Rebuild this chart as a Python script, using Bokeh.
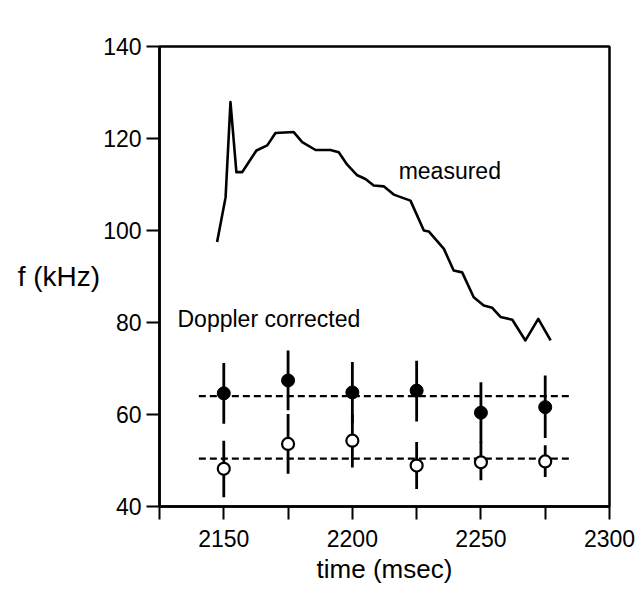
from bokeh.plotting import figure
from bokeh.models import Range1d, FixedTicker, Label
from bokeh.embed import file_html
from bokeh.resources import INLINE

FONT = "Liberation Sans"

# measured mode frequency (kHz) vs time (msec)
meas_t = [2147.4, 2150.7, 2152.6, 2154.9, 2157.2, 2162.7, 2166.9, 2170.1, 2177.2,
          2180.5, 2185.7, 2191.5, 2194.7, 2198.0, 2201.9, 2205.1, 2208.3, 2212.2,
          2216.1, 2222.6, 2227.8, 2229.7, 2235.6, 2239.4, 2242.7, 2247.2, 2251.1,
          2254.4, 2257.6, 2262.2, 2267.3, 2272.3, 2277.1]
meas_f = [97.5, 107.2, 127.9, 112.7, 112.7, 117.4, 118.5, 121.2, 121.4,
          119.2, 117.5, 117.5, 117.0, 114.3, 112.0, 111.2, 109.8, 109.6,
          107.8, 106.5, 100.0, 99.8, 96.0, 91.3, 90.9, 85.5, 83.7,
          83.2, 81.2, 80.6, 76.1, 80.8, 76.1]

# Doppler corrected points
pt_t = [2150, 2175, 2200, 2225, 2250, 2275]
filled_f = [64.6, 67.4, 64.8, 65.2, 60.4, 61.6]
filled_lo = [58.0, 60.9, 58.2, 58.5, 53.8, 54.9]
filled_hi = [71.2, 73.9, 71.4, 71.7, 67.0, 68.5]
open_f = [48.2, 53.6, 54.3, 48.9, 49.6, 49.8]
open_lo = [42.0, 47.1, 48.5, 43.8, 45.7, 46.4]
open_hi = [54.3, 60.1, 60.1, 54.0, 54.0, 53.3]

# dashed mean levels
dash_t = [2140.3, 2284.9]
dash_levels = [64.0, 50.4]

x_ticks = [2125, 2150, 2175, 2200, 2225, 2250, 2275, 2300]
x_tick_labels = ["", "2150", "", "2200", "", "2250", "", "2300"]
y_ticks = [40, 60, 80, 100, 120, 140]

p = figure(width=638, height=592, output_backend="svg", toolbar_location=None,
           x_range=Range1d(2125, 2300), y_range=Range1d(40, 140),
           min_border_left=159, min_border_right=29,
           min_border_top=46, min_border_bottom=86)
p.grid.visible = False
p.background_fill_color = "white"
p.border_fill_color = "white"
p.outline_line_color = "black"
p.outline_line_width = 2.5
p.outline_line_alpha = 1

for ax in (p.xaxis[0], p.yaxis[0]):
    ax.axis_line_width = 2.5
    ax.axis_line_color = "black"
    ax.major_tick_in = 0
    ax.major_tick_out = 13
    ax.major_tick_line_width = 2
    ax.major_tick_line_color = "black"
    ax.minor_tick_line_color = None
    ax.major_label_text_font = FONT
    ax.major_label_text_font_size = "23px"
    ax.major_label_text_color = "black"
    ax.axis_label_text_font = FONT
    ax.axis_label_text_font_style = "normal"
    ax.axis_label_text_font_size = "26px"
    ax.axis_label_text_color = "black"

p.xaxis.ticker = FixedTicker(ticks=x_ticks)
p.xaxis.major_label_overrides = {t: l for t, l in zip(x_ticks, x_tick_labels)}
p.xaxis.axis_label = "time (msec)"
p.xaxis.major_label_standoff = 10
p.xaxis.axis_label_standoff = 4

p.yaxis.ticker = FixedTicker(ticks=y_ticks)
p.yaxis.axis_label = "f (kHz)"
p.yaxis.axis_label_text_font_size = "28px"
p.yaxis.axis_label_orientation = "horizontal"
p.yaxis.major_label_standoff = 5
p.yaxis.axis_label_standoff = 0

# measured curve
p.line(meas_t, meas_f, line_color="black", line_width=2.6, line_join="round")

# dashed mean levels
for lev in dash_levels:
    p.line(dash_t, [lev, lev], line_color="black", line_width=2.2, line_dash="7 4")

# error bars
p.segment(x0=pt_t, y0=filled_lo, x1=pt_t, y1=filled_hi, line_color="black", line_width=2.8)
p.segment(x0=pt_t, y0=open_lo, x1=pt_t, y1=open_hi, line_color="black", line_width=2.8)

# markers
p.scatter(pt_t, filled_f, size=13, fill_color="black", line_color="black")
p.scatter(pt_t, open_f, size=12, fill_color="white", line_color="black", line_width=2.2)

# annotations
p.add_layout(Label(x=2218, y=113.0, text="measured", text_font=FONT,
                   text_font_size="23px", text_baseline="middle", text_color="black"))
p.add_layout(Label(x=2132, y=80.7, text="Doppler corrected", text_font=FONT,
                   text_font_size="23px", text_baseline="middle", text_color="black"))
p.add_layout(Label(x=2159.2, y=147.2, text="n=5", text_font=FONT,
                   text_font_size="22px", text_baseline="middle", text_color="black"))
p.add_layout(Label(x=2190.3, y=147.2, text="shot 71519", text_font=FONT,
                   text_font_size="22px", text_baseline="middle", text_color="black"))

open("out.html", "w").write(file_html(p, INLINE))
